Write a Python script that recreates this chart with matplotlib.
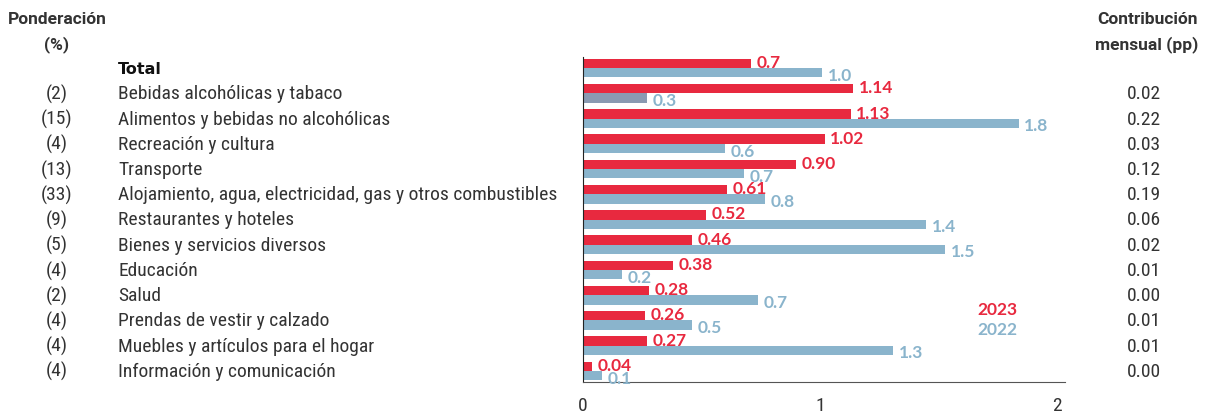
import numpy as np
import matplotlib
matplotlib.use('Agg')
import matplotlib.pyplot as plt
from matplotlib import font_manager
from matplotlib.transforms import blended_transform_factory

# data
categories = ['Total', 'Bebidas alcohólicas y tabaco', 'Alimentos y bebidas no alcohólicas',
              'Recreación y cultura', 'Transporte',
              'Alojamiento, agua, electricidad, gas y otros combustibles',
              'Restaurantes y hoteles', 'Bienes y servicios diversos', 'Educación', 'Salud',
              'Prendas de vestir y calzado', 'Muebles y artículos para el hogar',
              'Información y comunicación']
weights = ['', '(2)', '(15)', '(4)', '(13)', '(33)', '(9)', '(5)', '(4)', '(2)', '(4)', '(4)', '(4)']
vals_2023 = [0.71, 1.14, 1.13, 1.02, 0.90, 0.61, 0.52, 0.46, 0.38, 0.28, 0.26, 0.27, 0.04]
labels_2023 = ['0.7', '1.14', '1.13', '1.02', '0.90', '0.61', '0.52', '0.46', '0.38', '0.28', '0.26', '0.27', '0.04']
vals_2022 = [1.01, 0.27, 1.84, 0.60, 0.68, 0.77, 1.45, 1.53, 0.165, 0.74, 0.46, 1.31, 0.08]
labels_2022 = ['1.0', '0.3', '1.8', '0.6', '0.7', '0.8', '1.4', '1.5', '0.2', '0.7', '0.5', '1.3', '0.1']
contrib = ['', '0.02', '0.22', '0.03', '0.12', '0.19', '0.06', '0.02', '0.01', '0.00', '0.01', '0.01', '0.00']

red = '#e8293f'
blue = '#8ab4cc'
gray_blue = '#8a9ab2'
txt = '#333333'

# pick a condensed face if there is one
installed = set(f.name for f in font_manager.fontManager.ttflist)
narrow_font = 'Roboto'
for name in ['Roboto Condensed', 'Archivo Narrow', 'Asap Condensed', 'Liberation Sans Narrow']:
    if name in installed:
        narrow_font = name
        break
narrow = [narrow_font, 'DejaVu Sans']
head = ['Roboto', 'DejaVu Sans']

fig = plt.figure(figsize=(12.06, 4.14), dpi=100)
ax = fig.add_axes([583/1206, 1-383/414, (1065-583)/1206, (383-58)/414])

y = np.arange(len(categories))
h = 0.37
colors_2022 = [blue]*len(categories)
colors_2022[1] = gray_blue
ax.barh(y - h/2, vals_2023, height=h, color=red)
ax.barh(y + h/2, vals_2022, height=h, color=colors_2022)

for i in range(len(categories)):
    ax.annotate(labels_2023[i], (vals_2023[i], y[i] - h/2), xytext=(4, 1),
                textcoords='offset points', va='center', ha='left',
                color=red, fontsize=12.5, fontweight='bold', family='Lato')
    ax.annotate(labels_2022[i], (vals_2022[i], y[i] + h/2), xytext=(4, -1.5),
                textcoords='offset points', va='center', ha='left',
                color=blue, fontsize=12.5, fontweight='bold', family='Lato')

ax.set_xlim(0, 2.035)
ax.set_ylim(len(categories) - 1 + 0.44, -0.44)
ax.set_xticks([0, 1, 2])
ax.set_yticks([])
ax.tick_params(axis='x', length=0, pad=10, labelsize=14, labelcolor=txt)
for lbl in ax.get_xticklabels():
    lbl.set_family(narrow)
ax.spines['top'].set_visible(False)
ax.spines['right'].set_visible(False)
ax.spines['left'].set_color('#222222')
ax.spines['bottom'].set_color('#555555')

# left and right text columns
row_trans = blended_transform_factory(fig.transFigure, ax.transData)
for i in range(len(categories)):
    if i == 0:
        ax.text(118/1206, y[i], categories[i], transform=row_trans, ha='left', va='center',
                fontsize=11.5, fontweight='bold', color='#111111', family='DejaVu Sans')
    else:
        ax.text(118/1206, y[i], categories[i], transform=row_trans, ha='left', va='center',
                fontsize=14, color=txt, family=narrow)
    ax.text(57/1206, y[i], weights[i], transform=row_trans, ha='center', va='center',
            fontsize=14, color=txt, family=narrow)
    ax.text(1144/1206, y[i], contrib[i], transform=row_trans, ha='center', va='center',
            fontsize=14, color=txt, family=narrow)

fig.text(8/1206, 1-20/414, 'Ponderación', ha='left', va='center', fontsize=12.5,
         fontweight='bold', color=txt, family=head)
fig.text(57/1206, 1-45/414, '(%)', ha='center', va='center', fontsize=12.5,
         fontweight='bold', color=txt, family=head)
fig.text(1198/1206, 1-20/414, 'Contribución', ha='right', va='center', fontsize=12.5,
         fontweight='bold', color=txt, family=head)
fig.text(1198/1206, 1-45/414, 'mensual (pp)', ha='right', va='center', fontsize=12.5,
         fontweight='bold', color=txt, family=head)

fig.text(997/1206, 1-310/414, '2023', ha='center', va='center', fontsize=12.5,
         fontweight='bold', color=red, family='Lato')
fig.text(997/1206, 1-330/414, '2022', ha='center', va='center', fontsize=12.5,
         fontweight='bold', color=blue, family='Lato')

fig.savefig('out.png', dpi=100)
